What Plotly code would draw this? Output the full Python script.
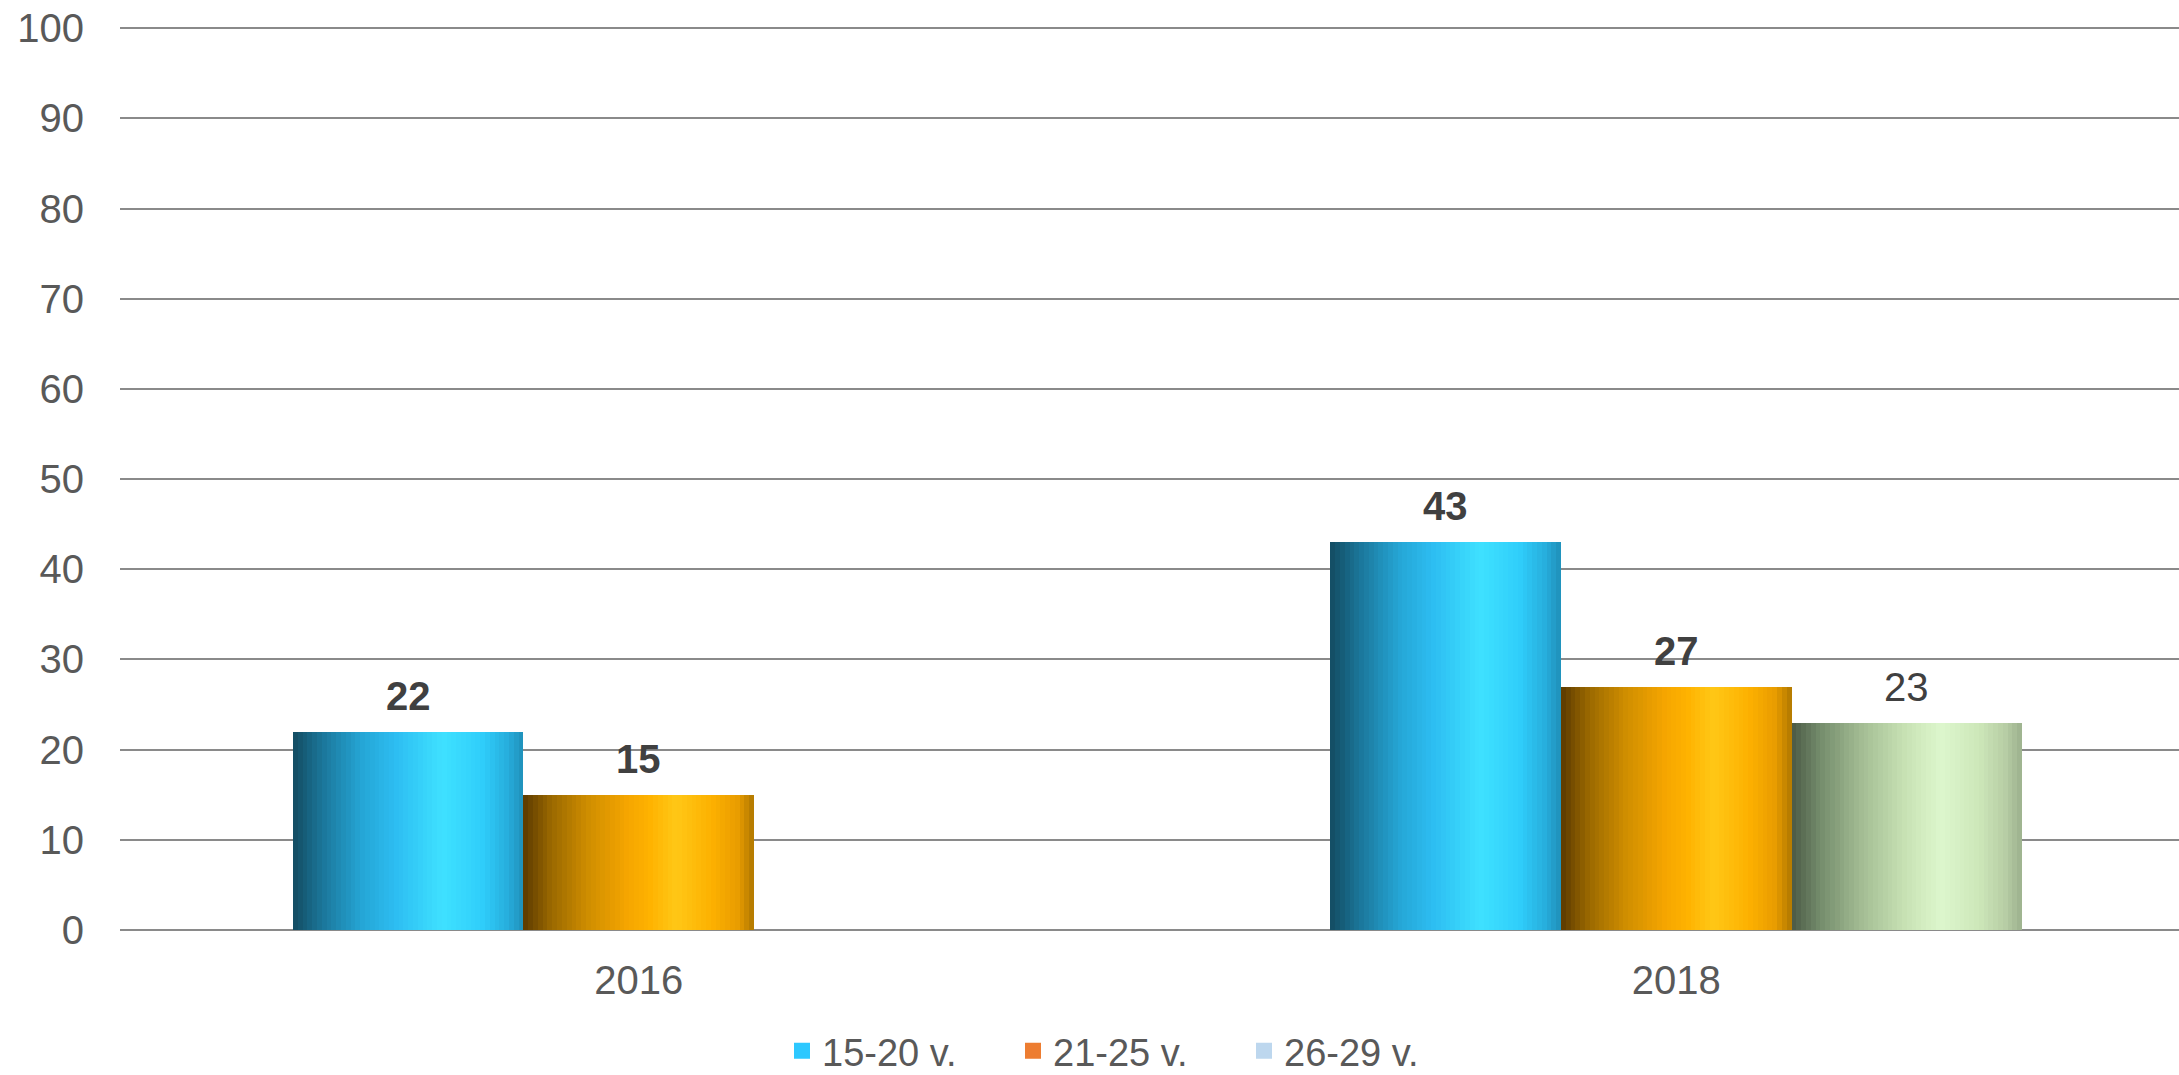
import plotly.graph_objects as go

# data
years = ["2016", "2018"]
series_names = ["15-20 v.", "21-25 v.", "26-29 v."]
val_15_20 = [22, 43]
val_21_25 = [15, 27]
val_26_29 = [None, 23]
y_ticks = [0, 10, 20, 30, 40, 50, 60, 70, 80, 90, 100]

series_vals = [val_15_20, val_21_25, val_26_29]
legend_colors = ["#2DC8FF", "#ED7D31", "#BDD7EE"]
label_bold = [True, True, False]

# horizontal "metallic" gradients for the bars
grads = [
    [(0, "#134B61"), (0.13, "#1B779B"), (0.3, "#25A6D6"), (0.45, "#2DBEF2"),
     (0.65, "#3FE1FF"), (0.82, "#2FCEFB"), (0.93, "#27AEDD"), (1, "#1F90B9")],
    [(0, "#5C3A00"), (0.12, "#9A6800"), (0.28, "#CF8E00"), (0.45, "#F5A500"),
     (0.55, "#FFB300"), (0.66, "#FFC716"), (0.82, "#FDB000"), (0.93, "#E89C00"), (1, "#B07800")],
    [(0, "#4A5945"), (0.12, "#738B6B"), (0.3, "#A3BC93"), (0.5, "#C9E3B5"),
     (0.65, "#DDF7CD"), (0.82, "#CCE6B8"), (0.93, "#B6CCA4"), (1, "#9CB18E")],
]


def hex2rgb(h):
    h = h.lstrip("#")
    return [int(h[i:i + 2], 16) for i in (0, 2, 4)]


def grad_color(stops, t):
    for (t0, c0), (t1, c1) in zip(stops[:-1], stops[1:]):
        if t0 <= t <= t1:
            f = (t - t0) / (t1 - t0)
            a, b = hex2rgb(c0), hex2rgb(c1)
            return "rgb(%d,%d,%d)" % tuple(round(a[i] + (b[i] - a[i]) * f) for i in range(3))
    return stops[-1][1]


FONT = "Liberation Sans, Arial, sans-serif"
pos = list(range(len(years)))
bw = 2 / 9          # width of one bar (category units)
n_slices = 48
step = bw / n_slices

fig = go.Figure()

for s, vals in enumerate(series_vals):
    off0 = -1.5 * bw + s * bw
    for k in range(n_slices):
        wk = step if k == n_slices - 1 else step * 1.6
        fig.add_trace(go.Bar(
            x=pos, y=vals, width=wk, offset=off0 + k * step,
            marker=dict(color=grad_color(grads[s], (k + 0.5) / n_slices), line=dict(width=0)),
            showlegend=False, hoverinfo="skip",
        ))
    # value labels
    for p, v in zip(pos, vals):
        if v is None:
            continue
        fig.add_annotation(
            x=p + off0 + bw / 2, y=v, text=str(v), showarrow=False,
            yanchor="bottom", yshift=12,
            font=dict(family=FONT, size=40, color="#404040",
                      weight="bold" if label_bold[s] else "normal"),
        )

# legend entries
for name, col in zip(series_names, legend_colors):
    fig.add_trace(go.Scatter(
        x=[None], y=[None], mode="markers", name=name,
        marker=dict(symbol="square", size=16, color=col),
    ))

fig.update_layout(
    width=2179, height=1075,
    margin=dict(l=120, r=0, t=26, b=145, autoexpand=False),
    paper_bgcolor="white", plot_bgcolor="rgba(0,0,0,0)",
    barmode="overlay", bargap=0, bargroupgap=0,
    font=dict(family=FONT, size=40, color="#595959"),
    showlegend=True,
    legend=dict(orientation="h", xref="container", x=782 / 2179, xanchor="left",
                y=-0.134, yanchor="middle", entrywidth=186,
                font=dict(size=38, color="#595959"), bgcolor="rgba(0,0,0,0)"),
)
fig.update_xaxes(
    range=[-0.5, 1.4846], tickvals=pos, ticktext=years,
    showgrid=False, zeroline=False, showline=False, ticks="",
    ticklabelstandoff=23, tickfont=dict(size=40, color="#595959"),
)
fig.update_yaxes(
    range=[0, 100.25], tickvals=y_ticks,
    showgrid=True, gridcolor="#8A8A8A", gridwidth=2,
    zeroline=True, zerolinecolor="#8A8A8A", zerolinewidth=2,
    showline=False, ticks="", ticklabelstandoff=35,
    tickfont=dict(size=40, color="#595959"),
)

# page body has an 8px default margin; drop it so the figure fills the window
fig.write_html("out.html", config={"displayModeBar": False},
               post_script="document.body.style.margin='0';")
